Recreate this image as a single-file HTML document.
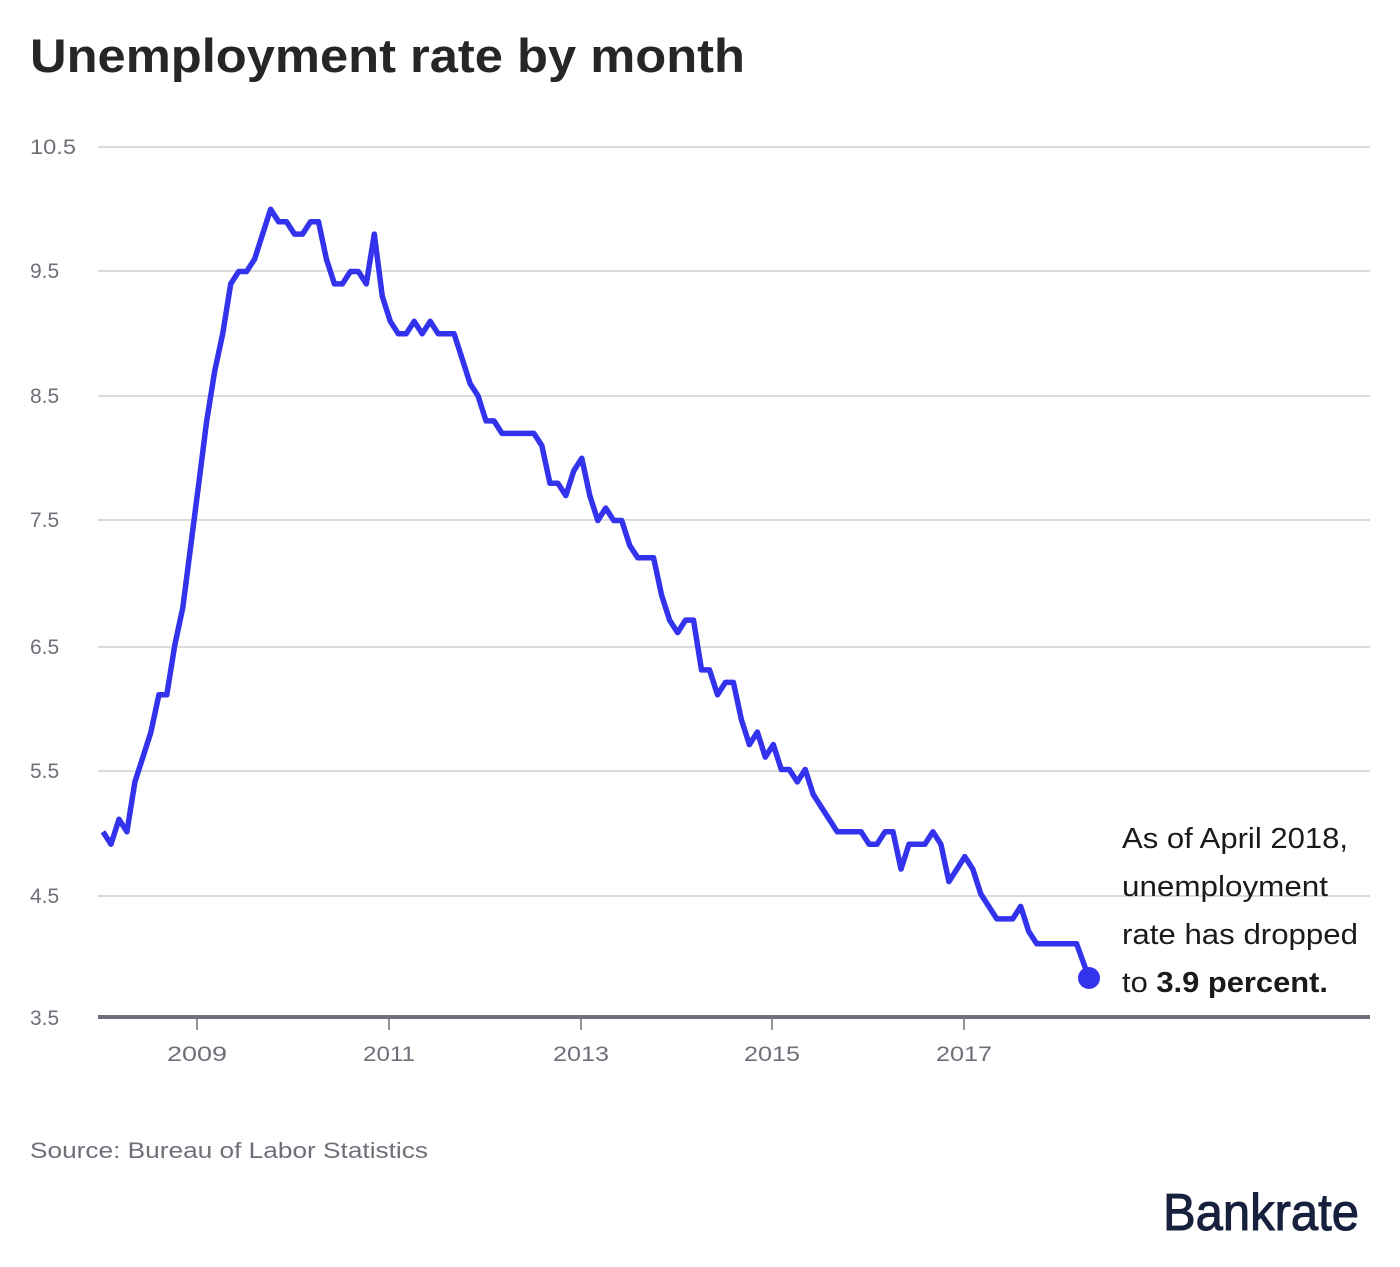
<!DOCTYPE html>
<html><head><meta charset="utf-8"><style>
body{margin:0;background:#fff;width:1400px;height:1262px;overflow:hidden;font-family:"Liberation Sans",sans-serif}
</style></head><body>
<svg width="1400" height="1262" xmlns="http://www.w3.org/2000/svg">
<text x="30" y="72" font-size="47" font-weight="bold" fill="#262626" font-family="Liberation Sans, sans-serif" textLength="715" lengthAdjust="spacingAndGlyphs">Unemployment rate by month</text>
<g stroke="#cfcfd4" stroke-width="1.5">
<line x1="98" x2="1370" y1="147" y2="147"/><line x1="98" x2="1370" y1="271" y2="271"/>
<line x1="98" x2="1370" y1="396" y2="396"/><line x1="98" x2="1370" y1="520" y2="520"/>
<line x1="98" x2="1370" y1="647" y2="647"/><line x1="98" x2="1370" y1="771" y2="771"/>
<line x1="98" x2="1370" y1="896" y2="896"/>
</g>
<g font-size="21" fill="#6f6f7a" font-family="Liberation Sans, sans-serif">
<text x="30" y="154" textLength="46" lengthAdjust="spacingAndGlyphs">10.5</text><text x="30" y="278">9.5</text><text x="30" y="403">8.5</text>
<text x="30" y="527">7.5</text><text x="30" y="654">6.5</text><text x="30" y="778">5.5</text>
<text x="30" y="903">4.5</text><text x="30" y="1025">3.5</text>
<g text-anchor="middle"><text x="197" y="1061" textLength="60" lengthAdjust="spacingAndGlyphs">2009</text><text x="389" y="1061" textLength="52" lengthAdjust="spacingAndGlyphs">2011</text><text x="581" y="1061" textLength="56" lengthAdjust="spacingAndGlyphs">2013</text><text x="772" y="1061" textLength="56" lengthAdjust="spacingAndGlyphs">2015</text><text x="964" y="1061" textLength="56" lengthAdjust="spacingAndGlyphs">2017</text></g>
</g>
<g stroke="#6f6f7a" stroke-width="1.5"><line x1="197" x2="197" y1="1017" y2="1030"/><line x1="389" x2="389" y1="1017" y2="1030"/><line x1="581" x2="581" y1="1017" y2="1030"/><line x1="772" x2="772" y1="1017" y2="1030"/><line x1="964" x2="964" y1="1017" y2="1030"/></g>
<line x1="98" x2="1370" y1="1017" y2="1017" stroke="#6f6f7a" stroke-width="4"/>
<polyline id="p" fill="none" stroke="#3333ee" stroke-width="5.5" stroke-linejoin="round" points=""/>
<circle cx="1089" cy="978" r="11" fill="#3333ee"/>
<g font-size="29" fill="#1a1a1a" font-family="Liberation Sans, sans-serif">
<text x="1122" y="848" textLength="226" lengthAdjust="spacingAndGlyphs">As of April 2018,</text>
<text x="1122" y="896" textLength="206" lengthAdjust="spacingAndGlyphs">unemployment</text>
<text x="1122" y="944" textLength="236" lengthAdjust="spacingAndGlyphs">rate has dropped</text>
<text x="1122" y="992" textLength="206" lengthAdjust="spacingAndGlyphs">to <tspan font-weight="bold">3.9 percent.</tspan></text>
</g>
<text x="30" y="1158" font-size="22" fill="#6f6f7a" font-family="Liberation Sans, sans-serif" textLength="398" lengthAdjust="spacingAndGlyphs">Source: Bureau of Labor Statistics</text>
<text x="1163" y="1230" font-size="52" fill="#17213d" font-family="Liberation Sans, sans-serif" textLength="196" lengthAdjust="spacingAndGlyphs" stroke="#17213d" stroke-width="1">Bankrate</text>
</svg>
<script>
var d=[5.0,4.9,5.1,5.0,5.4,5.6,5.8,6.1,6.1,6.5,6.8,7.3,7.8,8.3,8.7,9.0,9.4,9.5,9.5,9.6,9.8,10.0,9.9,9.9,9.8,9.8,9.9,9.9,9.6,9.4,9.4,9.5,9.5,9.4,9.8,9.3,9.1,9.0,9.0,9.1,9.0,9.1,9.0,9.0,9.0,8.8,8.6,8.5,8.3,8.3,8.2,8.2,8.2,8.2,8.2,8.1,7.8,7.8,7.7,7.9,8.0,7.7,7.5,7.6,7.5,7.5,7.3,7.2,7.2,7.2,6.9,6.7,6.6,6.7,6.7,6.3,6.3,6.1,6.2,6.2,5.9,5.7,5.8,5.6,5.7,5.5,5.5,5.4,5.5,5.3,5.2,5.1,5.0,5.0,5.0,5.0,4.9,4.9,5.0,5.0,4.7,4.9,4.9,4.9,5.0,4.9,4.6,4.7,4.8,4.7,4.5,4.4,4.3,4.3,4.3,4.4,4.2,4.1,4.1,4.1,4.1,4.1,4.1];
var pts=d.map(function(v,i){return (103+7.98*i).toFixed(1)+","+(147+(10.5-v)*124.5).toFixed(1)});
pts.push("1089,978");
document.getElementById("p").setAttribute("points",pts.join(" "));
</script>
</body></html>
